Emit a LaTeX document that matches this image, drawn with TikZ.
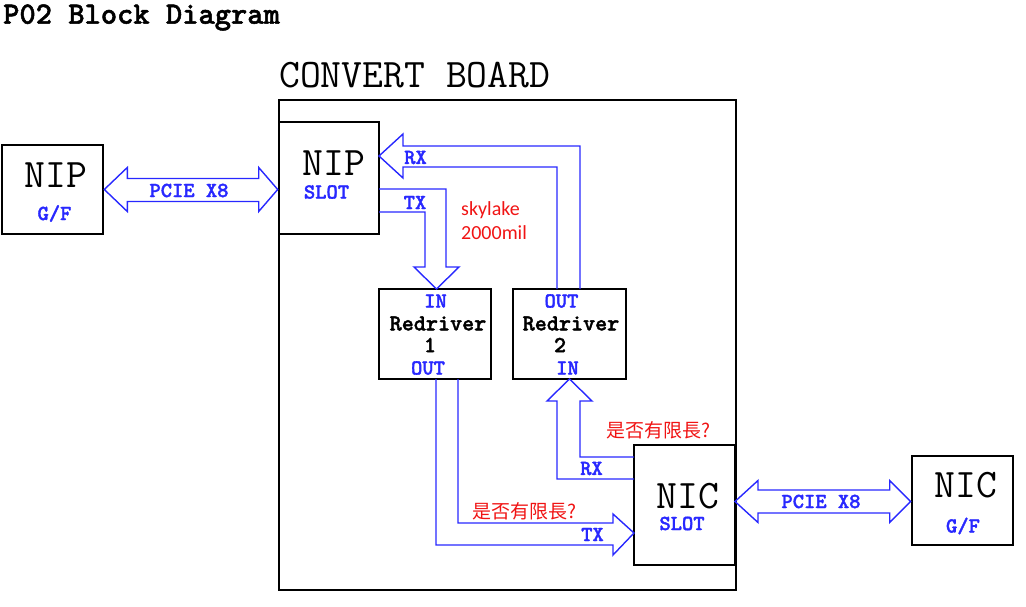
\documentclass[tikz,border=0pt]{standalone}
\usepackage{fontspec}
\newfontfamily\cjkf{Noto Sans CJK TC}
\newfontfamily\calf{Carlito}
\newfontfamily\lmbf{lmmonolt10-bold.otf}[FakeBold=1.6]
\usetikzlibrary{calc}
\definecolor{lblue}{RGB}{40,40,255}
\definecolor{lred}{RGB}{240,20,20}
\begin{document}
\begin{tikzpicture}[x=1pt,y=-1pt,
 box/.style={draw=black,line width=2.6pt,inner sep=0pt},
 barrow/.style={draw=lblue,line width=1.4pt,line join=miter},
 big/.style={font=\ttfamily\fontsize{40.5}{40.5}\selectfont,inner sep=0pt},
 lbl/.style={font=\lmbf\fontsize{21.5}{22}\selectfont,text=lblue,inner sep=0pt},
 blk/.style={font=\lmbf\fontsize{23}{23}\selectfont,inner sep=0pt},
 note/.style={font=\cjkf\fontsize{19}{19}\selectfont,text=lred,inner sep=0pt},
]
\useasboundingbox (0,0) rectangle (1026,607);
% title
\node[font=\lmbf\fontsize{31}{31}\selectfont,anchor=west,inner sep=0pt] (title) at (3,17.5) {P02 Block Diagram};
\node[big,anchor=west] (cbt) at (279,75) {CONVERT BOARD};
% boxes
\node[box,minimum width=457pt,minimum height=490pt] (board) at (507.5,345) {};
\node[box,minimum width=101pt,minimum height=89pt] (nipgf) at (52.5,189.5) {};
\node[box,minimum width=100pt,minimum height=112pt] (nipslot) at (329,178) {};
\node[box,minimum width=112pt,minimum height=90pt] (rd1) at (435,334) {};
\node[box,minimum width=113pt,minimum height=90pt] (rd2) at (569.5,334) {};
\node[box,minimum width=101pt,minimum height=120pt] (nicslot) at (684.5,505) {};
\node[box,minimum width=101pt,minimum height=89pt] (nicgf) at (962.5,500.5) {};
% box texts
\node[big] (t1) at (56,175) {NIP};
\node[lbl] (t2) at (54.5,213.5) {G/F};
\node[big] (t3) at (334,163.5) {NIP};
\node[lbl] (t4) at (326.5,192) {SLOT};
\node[lbl] (t5) at (435.5,301) {IN};
\node[blk] (t6) at (438,323.5) {Redriver};
\node[blk] (t7) at (430,345) {1};
\node[lbl] (t8) at (428,368) {OUT};
\node[lbl] (t9) at (561.5,301) {OUT};
\node[blk] (t10) at (571,323.5) {Redriver};
\node[blk] (t11) at (560,345) {2};
\node[lbl] (t12) at (567.5,368) {IN};
\node[big] (t13) at (688,496.5) {NIC};
\node[lbl] (t14) at (682,523.5) {SLOT};
\node[big] (t15) at (966,485.5) {NIC};
\node[lbl] (t16) at (963,526) {G/F};
% PCIE left
\coordinate (pl) at (nipgf.east);
\coordinate (pr) at (nipgf.east -| nipslot.west);
\draw[barrow] (pl) -- ++(23,-22) -- ++(0,11) -- ($(pr)+(-19,-11)$) -- ++(0,-11) -- (pr)
  -- ++(-19,22) -- ++(0,-10) -- ($(pl)+(23,12)$) -- ++(0,10) -- cycle;
\node[lbl] (pc1) at (189,190.5) {PCIE X8};
% PCIE right
\coordinate (ql) at (735,501.5);
\coordinate (qr) at (ql -| nicgf.west);
\draw[barrow] (ql) -- ++(23,-21) -- ++(0,9.5) -- ($(qr)+(-21,-11.5)$) -- ++(0,-9.5) -- (qr)
  -- ++(-21,21) -- ++(0,-9.5) -- ($(ql)+(23,11.5)$) -- ++(0,9.5) -- cycle;
\node[lbl] (pc2) at (821,501.5) {PCIE X8};
% RX top: rd2 -> nipslot
\draw[barrow] (557,289) -- (557,167) -- (403,167) -- (403,178) -- (379,156) -- (403,134) -- (403,146) -- (580,146) -- (580,289);
\node[lbl] (rx1) at (415.5,157.5) {RX};
% TX top: nipslot -> rd1
\draw[barrow] (379,189) -- (446,189) -- (446,267) -- (459,267) -- (436.5,289) -- (414,267) -- (425,267) -- (425,212) -- (379,212);
\node[lbl] (tx1) at (415,202.5) {TX};
% TX bottom: rd1 -> nicslot
\draw[barrow] (436,379) -- (436,545) -- (613,545) -- (613,555) -- (634,533) -- (613,514) -- (613,523) -- (458,523) -- (458,379);
\node[lbl] (tx2) at (592.5,534.5) {TX};
% RX bottom: nicslot -> rd2
\draw[barrow] (634,457) -- (580,457) -- (580,401) -- (592,401) -- (569.5,379) -- (547,401) -- (557,401) -- (557,479) -- (634,479);
\node[lbl] (rx2) at (591.5,468.5) {RX};
% notes
\node[note] (n1) at (658,430) {是否有限長?};
\node[note] (n2) at (524.5,511.5) {是否有限長?};
\node[font=\calf\fontsize{20}{24}\selectfont,text=lred,inner sep=0pt,anchor=north west,align=left] (sk) at (461,201) {skylake\\2000mil};
\end{tikzpicture}
\end{document}
